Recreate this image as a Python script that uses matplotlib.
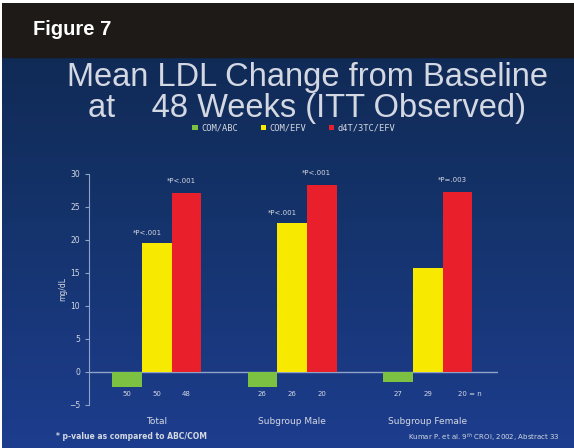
import numpy as np
import matplotlib.pyplot as plt
from matplotlib.colors import LinearSegmentedColormap
from matplotlib.patches import Rectangle

groups = ["Total", "Subgroup Male", "Subgroup Female"]
series = ["COM/ABC", "COM/EFV", "d4T/3TC/EFV"]
colors = ["#7cc142", "#f7ea00", "#e9202b"]
com_abc = [-2.3, -2.3, -1.5]
com_efv = [19.5, 22.6, 15.8]
d4t_efv = [27.1, 28.3, 27.2]
n_labels = [["50", "50", "48"], ["26", "26", "20"], ["27", "29", "20 = n"]]
p_efv = ["*P<.001", "*P<.001", ""]
p_d4t = ["*P<.001", "*P<.001", "*P=.003"]
yticks = [-5, 0, 5, 10, 15, 20, 25, 30]

txt = "#d4d8e2"
fig = plt.figure(figsize=(5.74, 4.48), dpi=100, facecolor="white")

# slide background
bg = fig.add_axes([0.003, 0, 0.997, 0.994], zorder=-10)
cmap = LinearSegmentedColormap.from_list("bg", ["#0f284f", "#15336c", "#1d3d8e"])
grad = np.linspace(0, 1, 256).reshape(-1, 1)
bg.imshow(grad, aspect="auto", cmap=cmap, extent=[0, 1, 0, 1], origin="upper")
bg.set_xlim(0, 1)
bg.set_ylim(0, 1)
bg.axis("off")
bg.add_patch(Rectangle((0, 0.879), 1, 0.2, color="#1e1a18", transform=bg.transAxes))

fig.text(0.057, 0.935, "Figure 7", color="white", fontsize=14.5, fontweight="bold",
         family=["Liberation Sans Narrow", "Liberation Sans", "DejaVu Sans"], va="center")
fig.text(0.535, 0.828, "Mean LDL Change from Baseline", color=txt, fontsize=23.5,
         family=["Liberation Sans", "DejaVu Sans"], ha="center", va="center")
fig.text(0.535, 0.758, "at    48 Weeks (ITT Observed)", color=txt, fontsize=23.5,
         family=["Liberation Sans", "DejaVu Sans"], ha="center", va="center")

ax = fig.add_axes([0.155, 0.096, 0.713, 0.516])
ax.set_facecolor("none")
x = np.arange(len(groups))
w = 0.22
handles = []
for i, (vals, c, lab) in enumerate(zip([com_abc, com_efv, d4t_efv], colors, series)):
    b = ax.bar(x + (i - 1) * w, vals, w, color=c, label=lab, zorder=3)
    handles.append(b)

for gi in range(len(groups)):
    for si in range(3):
        ax.text(x[gi] + (si - 1) * w, -3.3, n_labels[gi][si], color=txt, fontsize=5,
                ha="left" if n_labels[gi][si].endswith("n") else "center", va="center")
    if p_efv[gi]:
        ax.text(x[gi] - 0.07, com_efv[gi] + 1.5, p_efv[gi], color=txt, fontsize=5,
                ha="center", va="center")
    if p_d4t[gi]:
        ax.text(x[gi] + w - 0.04, d4t_efv[gi] + 1.8, p_d4t[gi], color=txt, fontsize=5,
                ha="center", va="center")
    ax.text(x[gi], -7.5, groups[gi], color=txt, fontsize=6.5, ha="center", va="center")

ax.axhline(0, color="#8fa3c8", lw=1, zorder=2)
ax.set_xlim(-0.5, 2.52)
ax.set_ylim(-5, 30)
ax.set_yticks(yticks)
ax.set_xticks([])
for s in ["top", "right", "bottom"]:
    ax.spines[s].set_visible(False)
ax.spines["left"].set_color("#8fa3c8")
ax.tick_params(axis="y", colors="#8fa3c8", labelcolor=txt, labelsize=5.5, length=3)
ax.set_ylabel("mg/dL", color=txt, fontsize=5.5, labelpad=1)

fig.legend(handles=handles, labels=series, loc="center", bbox_to_anchor=(0.512, 0.714),
           ncol=3, frameon=False, labelcolor=txt, handlelength=0.6,
           handleheight=0.6, handletextpad=0.4, columnspacing=2.6,
           prop={"family": "DejaVu Sans Mono", "size": 6.3})

fig.text(0.097, 0.025, "* p-value as compared to ABC/COM", color=txt, fontsize=5.5,
         fontweight="bold", va="center")
fig.text(0.975, 0.025, "Kumar P. et al. 9$^{th}$ CROI, 2002, Abstract 33", color=txt,
         fontsize=5, ha="right", va="center")

fig.savefig("out.png", dpi=100, facecolor=fig.get_facecolor())
